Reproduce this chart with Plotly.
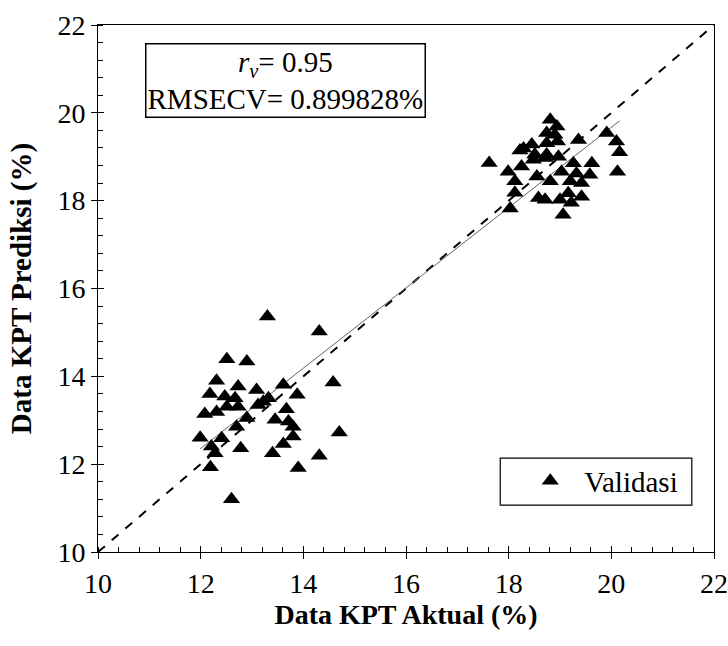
import numpy as np
import plotly.graph_objects as go

# Actual vs predicted KPT (%), validation set
aktual = [
    13.30, 14.31, 12.51, 12.90, 12.31, 12.73, 13.09, 13.61, 14.58, 13.88,
    12.18, 12.47, 12.67, 13.32, 12.51, 12.73, 13.12, 13.22, 13.67, 12.08,
    12.31, 12.90, 13.45, 13.71, 13.80, 12.70, 11.99, 12.41, 13.80, 14.70,
    13.61, 12.21, 12.78, 13.40, 12.28, 14.31, 12.19, 13.90, 12.60,
    18.81, 18.94, 18.74, 18.90, 19.91, 20.10, 20.16, 20.12, 19.36, 18.29,
    18.45, 18.74, 18.95, 18.22, 18.51, 18.74, 17.62, 17.99, 18.25, 18.48,
    18.71, 18.97, 19.26, 19.62, 19.58, 19.32, 19.03, 18.81, 19.20, 18.12,
    19.42, 18.12, 18.58, 18.71, 19.00, 19.16, 19.42, 18.03, 19.06, 19.22,
    18.55,
]
prediksi = [
    15.36, 15.02, 14.39, 14.34, 13.90, 13.77, 13.69, 13.81, 13.86, 13.58,
    13.60, 13.54, 13.50, 13.50, 13.31, 13.31, 13.35, 13.42, 13.25, 13.14,
    13.19, 13.05, 13.01, 12.97, 12.85, 12.85, 12.60, 12.59, 12.63, 12.72,
    12.46, 12.40, 12.36, 12.25, 12.25, 12.19, 11.93, 11.91, 11.20,
    19.84, 19.69, 19.54, 19.50, 19.54, 19.35, 19.10, 18.66, 19.38, 19.19,
    19.28, 19.31, 19.35, 19.14, 19.05, 19.05, 18.86, 18.66, 18.78, 18.93,
    18.97, 19.00, 18.85, 18.85, 18.59, 18.62, 18.66, 18.44, 18.44, 18.44,
    18.40, 18.18, 18.06, 18.02, 18.02, 18.17, 18.09, 17.82, 17.68, 17.95,
    18.55,
]

fit_slope = 0.914
fit_intercept = 1.39
ideal_line = [10, 22]

x_ticks = [10, 12, 14, 16, 18, 20, 22]
y_ticks = [10, 12, 14, 16, 18, 20, 22]

FONT = "Liberation Serif"

fit_x = np.array([min(aktual), max(aktual)])
fit_y = fit_intercept + fit_slope * fit_x

fig = go.Figure()
fig.add_trace(go.Scatter(
    x=ideal_line, y=ideal_line, mode="lines",
    line=dict(color="black", width=2, dash="dash"),
    showlegend=False, hoverinfo="skip"))
fig.add_trace(go.Scatter(
    x=fit_x, y=fit_y, mode="lines",
    line=dict(color="#666666", width=1),
    showlegend=False, hoverinfo="skip"))
fig.add_trace(go.Scatter(
    x=aktual, y=prediksi, mode="markers", name="Validasi",
    marker=dict(symbol="triangle-up", size=15, color="black")))
# invisible trace on overlay axes (for inward half of major ticks)
fig.add_trace(go.Scatter(x=[None], y=[None], xaxis="x2", yaxis="y2",
                         showlegend=False, hoverinfo="skip"))

axis_common = dict(
    showgrid=False, zeroline=False, showline=True, linecolor="black",
    linewidth=1, ticks="outside", ticklen=6, tickcolor="black",
    automargin=False,
    tickfont=dict(family=FONT, size=28, color="black"),
)

fig.update_layout(
    width=728, height=646,
    margin=dict(l=98, r=14, t=25, b=94, autoexpand=False),
    plot_bgcolor="white", paper_bgcolor="white",
    font=dict(family=FONT, color="black"),
    xaxis=dict(
        range=[10, 22], tickvals=x_ticks, mirror=True,
        minor=dict(dtick=0.4, ticks="inside", ticklen=5, tickcolor="black"),
        title=dict(text="<b>Data KPT Aktual (%)</b>",
                   font=dict(family=FONT, size=28), standoff=0),
        **axis_common),
    yaxis=dict(
        range=[10, 22], tickvals=y_ticks, mirror=True,
        minor=dict(dtick=0.4, ticks="inside", ticklen=5, tickcolor="black"),
        title=dict(text="<b>Data KPT Prediksi (%)</b>",
                   font=dict(family=FONT, size=29), standoff=17),
        **axis_common),
    xaxis2=dict(range=[10, 22], overlaying="x", anchor="y2", side="bottom",
                tickvals=x_ticks, ticks="inside", ticklen=6, tickcolor="black",
                showticklabels=False, showgrid=False, zeroline=False,
                showline=False, automargin=False),
    yaxis2=dict(range=[10, 22], overlaying="y", anchor="x2", side="left",
                tickvals=y_ticks, ticks="inside", ticklen=6, tickcolor="black",
                showticklabels=False, showgrid=False, zeroline=False,
                showline=False, automargin=False),
    legend=dict(x=0.679, y=0.135, xanchor="left", yanchor="middle",
                bgcolor="rgba(0,0,0,0)", borderwidth=0, itemwidth=58,
                font=dict(family=FONT, size=29, color="black")),
    showlegend=True,
)

fig.add_annotation(
    xref="paper", yref="paper", x=0.305, y=0.895,
    xanchor="center", yanchor="middle", showarrow=False,
    text="<i>r</i><sub><i>v</i></sub>= 0.95<br>RMSECV= 0.899828%",
    font=dict(family=FONT, size=29, color="black"),
    bordercolor="black", borderwidth=1.5, borderpad=1, bgcolor="white",
    align="center")

fig.add_shape(type="rect", xref="paper", yref="paper",
              x0=0.653, x1=0.964, y0=0.089, y1=0.178,
              line=dict(color="black", width=1.2), fillcolor="rgba(0,0,0,0)")

fig.write_html(
    "out.html",
    config={"displayModeBar": False},
    post_script="document.body.style.margin='0px';"
                "document.body.style.overflow='hidden';")
